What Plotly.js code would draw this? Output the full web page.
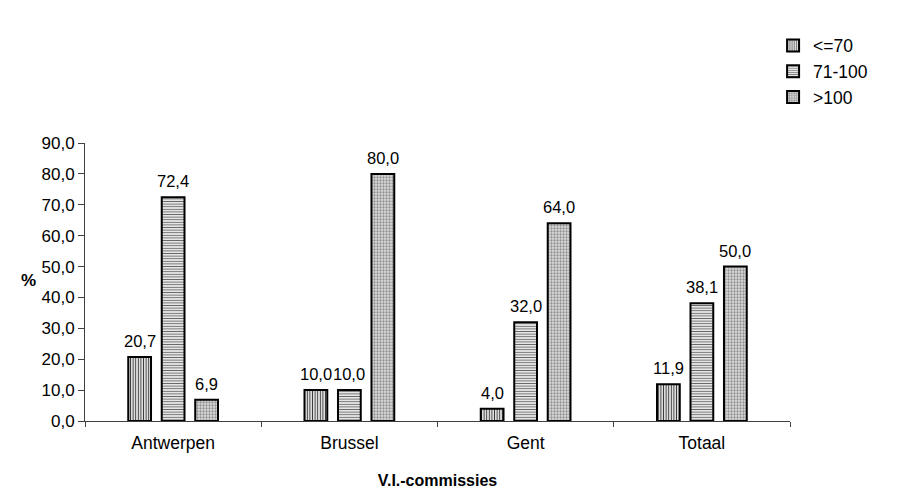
<!DOCTYPE html>
<html>
<head>
<meta charset="utf-8">
<script src="https://cdn.plot.ly/plotly-3.0.1.min.js"></script>
<style>
  html, body { margin: 0; padding: 0; background: #fff; }
  #chart { width: 904px; height: 489px; }
</style>
</head>
<body>
<div id="chart"></div>
<script>
// Share of cases per income class, by V.I.-commissie
const categories = ['Antwerpen', 'Brussel', 'Gent', 'Totaal'];
const seriesNames = ['<=70', '71-100', '>100'];
const valuesLow = [20.7, 10.0, 4.0, 11.9];
const valuesMid = [72.4, 10.0, 32.0, 38.1];
const valuesHigh = [6.9, 80.0, 64.0, 50.0];
const yTicks = [0, 10, 20, 30, 40, 50, 60, 70, 80, 90];

const FONT = 'Liberation Sans, Arial, sans-serif';
const W = 904, H = 489;
const M = { l: 85, r: 114, t: 143, b: 68 };
const BARGAP = 0.43, GROUPGAP = 0.32;

const patterns = [
  { shape: '|', fgcolor: '#3a3a3a', bgcolor: '#ffffff', size: 2.6, solidity: 0.45 },
  { shape: '-', fgcolor: '#6a6a6a', bgcolor: '#ffffff', size: 2.6, solidity: 0.45 },
  { shape: '.', fgcolor: '#909090', bgcolor: '#dcdcdc', size: 3, solidity: 0.45 }
];
const series = [valuesLow, valuesMid, valuesHigh];

const traces = series.map((vals, i) => ({
  type: 'bar',
  name: seriesNames[i],
  x: categories,
  y: vals,
  marker: {
    color: patterns[i].bgcolor,
    pattern: patterns[i],
    line: { color: '#000', width: 2 }
  },
  hoverinfo: 'skip'
}));

// Value labels above each bar, offset to the bar's slot within its group
const plotW = W - M.l - M.r;
const catPx = plotW / categories.length;
const slotPx = (1 - BARGAP) / series.length * catPx;
const fmt = v => v.toFixed(1).replace('.', ',');
const annotations = [];
series.forEach((vals, i) => {
  vals.forEach((v, j) => {
    annotations.push({
      x: categories[j], y: v, xref: 'x', yref: 'y',
      xshift: (i - (series.length - 1) / 2) * slotPx,
      yshift: 5,
      yanchor: 'bottom',
      text: fmt(v), showarrow: false,
      font: { family: FONT, size: 16.5, color: '#000' }
    });
  });
});
annotations.push({
  x: -0.094, y: 0.507, xref: 'paper', yref: 'paper',
  text: '<b>%</b>', showarrow: false,
  font: { family: FONT, size: 17, color: '#000' }
});

const layout = {
  width: W, height: H,
  margin: M,
  paper_bgcolor: '#fff', plot_bgcolor: '#fff',
  separators: ',.',
  barmode: 'group',
  bargap: BARGAP,
  bargroupgap: GROUPGAP,
  font: { family: FONT, size: 15, color: '#000' },
  xaxis: {
    type: 'category',
    showline: true, linecolor: '#404040', linewidth: 1,
    ticks: 'outside', tickson: 'boundaries', ticklen: 5, tickcolor: '#404040',
    ticklabelstandoff: 6,
    showgrid: false, zeroline: false,
    tickfont: { family: FONT, size: 17.5, color: '#000' },
    title: { text: '<b>V.I.-commissies</b>', font: { family: FONT, size: 16, color: '#000' }, standoff: 22 }
  },
  yaxis: {
    range: [0, 90],
    tickvals: yTicks,
    tickformat: '.1f',
    showline: true, linecolor: '#404040', linewidth: 1,
    ticks: 'outside', ticklen: 6, tickcolor: '#404040',
    showgrid: false, zeroline: false,
    tickfont: { family: FONT, size: 17, color: '#000' }
  },
  showlegend: true,
  legend: {
    x: 0.976, y: 1.415, xanchor: 'left', yanchor: 'top',
    font: { family: FONT, size: 17.5, color: '#000' },
    bgcolor: 'rgba(0,0,0,0)', borderwidth: 0,
    traceorder: 'normal'
  },
  annotations: annotations
};

Plotly.newPlot('chart', traces, layout, { displayModeBar: false, staticPlot: true });
</script>
</body>
</html>
